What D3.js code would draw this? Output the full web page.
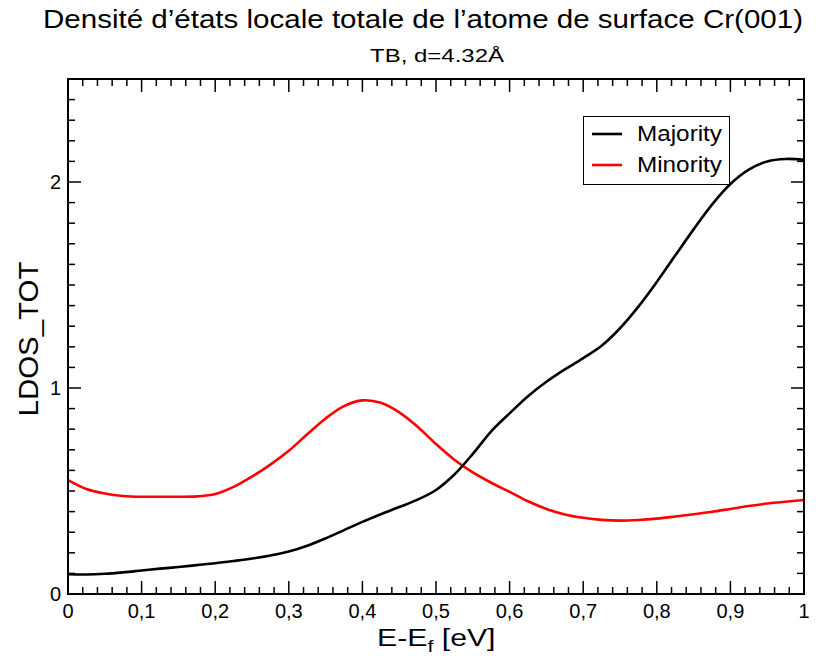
<!DOCTYPE html>
<html><head><meta charset="utf-8">
<script src="https://cdn.jsdelivr.net/npm/d3@7"></script>
<style>body{margin:0;background:#fff}svg{display:block}text{font-family:"Liberation Sans",Arial,sans-serif}</style>
</head><body>
<script>
const energy = [0,0.025,0.05,0.075,0.1,0.125,0.15,0.175,0.2,0.225,0.25,0.275,0.3,0.325,0.35,0.375,0.4,0.425,0.45,0.475,0.5,0.525,0.55,0.575,0.6,0.625,0.65,0.675,0.7,0.725,0.75,0.775,0.8,0.825,0.85,0.875,0.9,0.925,0.95,0.975,1.0];
const majority = [0.096,0.095,0.098,0.105,0.114,0.123,0.131,0.140,0.149,0.160,0.172,0.187,0.206,0.234,0.27,0.31,0.35,0.387,0.422,0.458,0.505,0.58,0.68,0.79,0.877,0.96,1.03,1.09,1.145,1.205,1.29,1.395,1.515,1.643,1.77,1.89,1.99,2.06,2.10,2.112,2.108];
const minority = [0.553,0.51,0.488,0.476,0.472,0.472,0.472,0.474,0.485,0.52,0.57,0.628,0.695,0.775,0.852,0.912,0.94,0.928,0.882,0.812,0.728,0.652,0.59,0.54,0.496,0.45,0.413,0.386,0.37,0.36,0.356,0.359,0.366,0.376,0.387,0.399,0.413,0.427,0.439,0.448,0.456];
const xTicks = [0,0.1,0.2,0.3,0.4,0.5,0.6,0.7,0.8,0.9,1];
const xTickLabels = ["0","0,1","0,2","0,3","0,4","0,5","0,6","0,7","0,8","0,9","1"];
const yTicks = [0,1,2];
const yTickLabels = ["0","1","2"];
const seriesNames = ["Majority","Minority"];
const seriesColors = ["#000000","#ff0000"];

const W=837,H=665;
const L=68,R=804,T=79,B=594;
const svg=d3.select("body").append("svg").attr("width",W).attr("height",H);
const x=d3.scaleLinear().domain([0,1]).range([L,R]);
const y=d3.scaleLinear().domain([0,2.5]).range([B,T]);

const xMinor=d3.range(0,1.0001,0.02).filter(v=>Math.abs(v*10-Math.round(v*10))>1e-6);
const yMinor=d3.range(0,2.5001,0.1).filter(v=>Math.abs(v-Math.round(v))>1e-6);
const g=svg.append("g").attr("stroke","#000").attr("stroke-width",1.5);
xTicks.forEach(v=>{g.append("line").attr("x1",x(v)).attr("x2",x(v)).attr("y1",B).attr("y2",B-13);
 g.append("line").attr("x1",x(v)).attr("x2",x(v)).attr("y1",T).attr("y2",T+13);});
xMinor.forEach(v=>{g.append("line").attr("x1",x(v)).attr("x2",x(v)).attr("y1",B).attr("y2",B-7);
 g.append("line").attr("x1",x(v)).attr("x2",x(v)).attr("y1",T).attr("y2",T+7);});
yTicks.forEach(v=>{g.append("line").attr("y1",y(v)).attr("y2",y(v)).attr("x1",L).attr("x2",L+13);
 g.append("line").attr("y1",y(v)).attr("y2",y(v)).attr("x1",R).attr("x2",R-13);});
yMinor.forEach(v=>{g.append("line").attr("y1",y(v)).attr("y2",y(v)).attr("x1",L).attr("x2",L+7);
 g.append("line").attr("y1",y(v)).attr("y2",y(v)).attr("x1",R).attr("x2",R-7);});

const line=d3.line().x((d,i)=>x(energy[i])).y(d=>y(d)).curve(d3.curveCatmullRom.alpha(0.5));
svg.append("path").attr("d",line(minority)).attr("fill","none").attr("stroke",seriesColors[1]).attr("stroke-width",2.6);
svg.append("path").attr("d",line(majority)).attr("fill","none").attr("stroke",seriesColors[0]).attr("stroke-width",2.6);

svg.append("rect").attr("x",L).attr("y",T).attr("width",R-L).attr("height",B-T).attr("fill","none").attr("stroke","#000").attr("stroke-width",2);

xTicks.forEach((v,i)=>svg.append("text").attr("x",x(v)).attr("y",618).attr("text-anchor","middle").attr("font-size",20).text(xTickLabels[i]));
yTicks.forEach((v,i)=>svg.append("text").attr("x",61).attr("y",y(v)+7).attr("text-anchor","end").attr("font-size",20).text(yTickLabels[i]));

svg.append("text").attr("x",43).attr("y",28).attr("font-size",25).attr("textLength",760).attr("lengthAdjust","spacingAndGlyphs").text("Densité d’états locale totale de l’atome de surface Cr(001)");
svg.append("text").attr("x",370).attr("y",62).attr("font-size",18).attr("textLength",134).attr("lengthAdjust","spacingAndGlyphs").text("TB, d=4.32Å");
const xl=svg.append("g").attr("transform","translate(377,646) scale(1.26,1)").append("text").attr("x",0).attr("y",0).attr("font-size",24);
xl.append("tspan").text("E-E");
xl.append("tspan").attr("font-size",17).attr("dy",6).text("f");
xl.append("tspan").attr("dy",-6).text(" [eV]");
svg.append("text").attr("transform","translate(38,339) rotate(-90)").attr("text-anchor","middle").attr("font-size",28).attr("textLength",155).attr("lengthAdjust","spacingAndGlyphs").text("LDOS_TOT");

svg.append("rect").attr("x",583.5).attr("y",116.5).attr("width",146).attr("height",68).attr("fill","#fff").attr("stroke","#000").attr("stroke-width",1);
seriesNames.forEach((n,i)=>{
  const yy=134+i*31;
  svg.append("line").attr("x1",592).attr("x2",622).attr("y1",yy).attr("y2",yy).attr("stroke",seriesColors[i]).attr("stroke-width",2.6);
  svg.append("text").attr("x",637).attr("y",yy+7).attr("font-size",22).attr("textLength",85).attr("lengthAdjust","spacingAndGlyphs").text(n);
});
</script>
</body></html>
